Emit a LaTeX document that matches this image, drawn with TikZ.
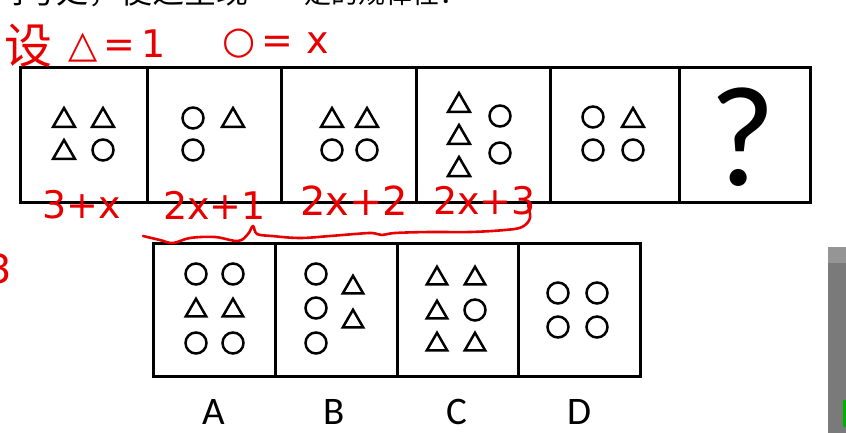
\documentclass[tikz,border=0pt]{standalone}
\usepackage{fontspec}
\setmainfont{Carlito}
\newfontfamily\cjk{Noto Sans CJK SC}
\newfontfamily\hand{DejaVu Sans}
\definecolor{ink}{RGB}{232,0,0}
\definecolor{panel}{RGB}{122,122,122}
\begin{document}
\begin{tikzpicture}[x=1pt, y=-1pt,
  box/.style={line width=3pt},
  tri/.pic={\draw[line width=2.5pt, line join=miter] (-11,9)--(11,9)--(0,-10)--cycle;},
  circ/.pic={\draw[line width=2.5pt] (0,0) circle (10.5pt);},
  anno/.style={text=ink, inner sep=0pt, font=\hand\fontsize{38}{38}\selectfont},
  lab/.style={inner sep=0pt, anchor=base, font=\fontsize{39}{39}\selectfont}]
\useasboundingbox (0,0) rectangle (846,433);
\clip (0,0) rectangle (846,433);
%cut-off question text:
\node[inner sep=0pt, anchor=base west, font=\cjk\fontsize{32}{32}\selectfont] (intro) at (-8,4) {问号处，使之呈现};
\node[inner sep=0pt, anchor=base west, font=\cjk\fontsize{27}{27}\selectfont] (intro2) at (277,4) {一定的规律性：};
%top row:
\draw[box] (20,68) rectangle (810,202);
\foreach \xd in {147,281,416,550,679} \draw[box] (\xd,68) -- (\xd,202);
%bottom row:
\draw[box] (153,243) rectangle (640,376);
\foreach \xd in {275,397,518} \draw[box] (\xd,243) -- (\xd,376);
%triangles, top:
\foreach \px/\py in {64/118, 103/118, 64/150, 233/118, 332/118, 367/118,
  459/103, 459/135, 459/167, 633/118}
  \pic at (\px,\py) {tri};
%circles, top:
\foreach \px/\py in {103/150, 193/118, 193/150, 332/150, 367/150,
  500/116, 500/153, 593/117, 593/150, 633/150}
  \pic at (\px,\py) {circ};
\node[inner sep=0pt, anchor=base, font=\fontsize{143}{143}\selectfont] (qmark) at (743,185) {?};
%triangles, options:
\foreach \px/\py in {196/308, 233/308, 353/285, 353/319,
  437/276, 475/276, 437/310, 437/342, 475/342}
  \pic[scale=0.92] at (\px,\py) {tri};
%circles, options:
\foreach \px/\py in {196/274, 233/274, 196/343, 233/343, 316/274, 316/308, 316/343,
  475/310, 558/293, 597/293, 558/327, 597/327}
  \pic at (\px,\py) {circ};
\node[lab] (labA) at (214,424) {A};
\node[lab] (labB) at (334,424) {B};
\node[lab] (labC) at (457,424) {C};
\node[lab] (labD) at (579,424) {D};
%red notes:
\node[anno, anchor=base west, font=\cjk\fontsize{48}{48}\selectfont] (setword) at (4,64) {设};
\node[anno, anchor=base west] (triEq) at (68,58) {△\,=\,1};
\node[anno, anchor=base west] (cirEq) at (222,54) {○\,=\,\,x};
\node[anno, anchor=base west] (sumA) at (42,218) {3+x};
\node[anno, anchor=base west] (sumB) at (163,219) {2x+1};
\node[anno, anchor=base west, font=\hand\fontsize{40}{40}\selectfont] (sumC) at (300,215) {2x+2};
\node[anno, anchor=base west] (sumD) at (433,214) {2x+3};
\node[anno, anchor=base west, font=\hand\fontsize{40}{40}\selectfont] (cutThree) at (-14,283) {3};
\draw[ink, line width=2.6pt, line cap=round, line join=round] plot[smooth, tension=0.6] coordinates {
  (143,236) (160,240) (173,243) (190,238) (215,237) (238,241) (248,234) (253,226)
  (257,234) (272,236) (300,238) (330,236) (355,234) (372,233) (382,235) (395,233)
  (430,232) (470,232) (505,230) (522,227) (530,218) (528,205)};
%side panel:
\fill[panel] (828,247) rectangle (846,433);
\fill[panel!80!white] (828,247) rectangle (846,263);
\fill[green!70!black] (843,400) rectangle (846,427);
\end{tikzpicture}
\end{document}
